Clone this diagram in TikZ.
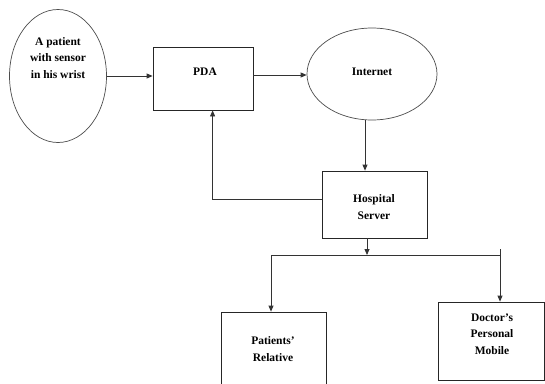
\documentclass[tikz,border=0pt]{standalone}
\usepackage{fontspec}
\setmainfont{Liberation Serif}
\usetikzlibrary{shapes.geometric,arrows.meta}

\tikzset{
  oval/.style={draw=black!70, line width=0.7pt, ellipse, inner sep=0pt},
  box/.style={draw=black!85, line width=0.8pt, rectangle, inner sep=0pt},
  lbl/.style={align=center, inner sep=0pt, font=\bfseries\fontsize{11.5}{16.5}\selectfont},
  arr/.style={draw=black!80, line width=0.8pt, -{Triangle[length=6pt,width=5pt]}}
}

\begin{document}
\begin{tikzpicture}[x=1pt, y=-1pt]
  \useasboundingbox (0,0) rectangle (545,383);
  \clip (0,0) rectangle (545,383);
  % Shapes
  \node[oval, minimum width=97pt, minimum height=133pt] (patient) at (58,76) {};
  \node[box, minimum width=100pt, minimum height=63pt] (pda) at (203,78.5) {};
  \node[oval, minimum width=130pt, minimum height=92pt] (internet) at (372,74) {};
  \node[box, minimum width=105pt, minimum height=67pt] (hosp) at (374.5,204.5) {};
  \node[box, minimum width=105pt, minimum height=88pt] (rel) at (273.5,356) {};
  \node[box, minimum width=106pt, minimum height=78pt] (doc) at (491,341) {};
  % Labels
  \node[lbl] (patientT) at (58,58) {A patient\\with sensor\\in his wrist};
  \node[lbl] (pdaT) at (205,72) {PDA};
  \node[lbl] (internetT) at (372,72) {Internet};
  \node[lbl] (hospT) at (374,207) {Hospital\\Server};
  \node[lbl] (relT) at (273,349) {Patients'\\Relative};
  \node[lbl] (docT) at (492,334) {Doctor's\\Personal\\Mobile};
  % Connectors
  \draw[arr] (patient.east) -- (patient.east -| pda.west);
  \draw[arr] ([yshift=3.5pt]pda.east) -- ([yshift=3.5pt]pda.east -| internet.west);
  \draw[arr] ([xshift=-7pt]internet.south) -- ([xshift=-7pt]internet.south |- hosp.north);
  \draw[arr] ([yshift=5.5pt]hosp.west) -| ([xshift=60pt]pda.south west);
  % Distribution bus
  \coordinate (busM) at (367,255);
  \coordinate (busL) at (271,255);
  \coordinate (busR) at (500,255);
  \coordinate (tickR) at (500,249);
  \draw[arr] ([xshift=-7.5pt]hosp.south) -- (busM);
  \draw[draw=black!80, line width=0.8pt] (busL) -- (busR);
  \draw[arr] (busL) -- (busL |- rel.north);
  \draw[arr] (tickR) -- (tickR |- doc.north);
\end{tikzpicture}
\end{document}
